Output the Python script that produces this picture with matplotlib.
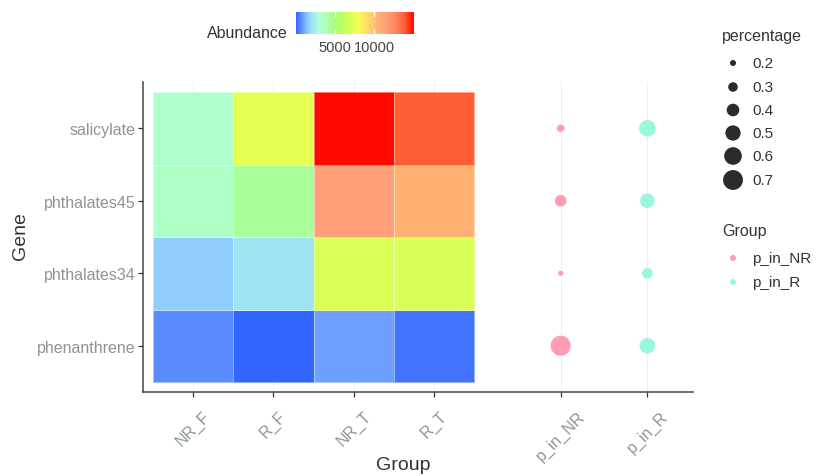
import numpy as np
import matplotlib
matplotlib.use("Agg")
import matplotlib.pyplot as plt
from matplotlib.colors import LinearSegmentedColormap, Normalize
from matplotlib.cm import ScalarMappable

plt.rcParams['font.family'] = ['Liberation Sans', 'DejaVu Sans']

# ---- data -------------------------------------------------------------
genes = ["phenanthrene", "phthalates34", "phthalates45", "salicylate"]
groups = ["NR_F", "R_F", "NR_T", "R_T"]
# abundance per gene (rows) and group (columns)
abundance_phenanthrene = [700, 100, 1000, 330]
abundance_phthalates34 = [1600, 2200, 7100, 6950]
abundance_phthalates45 = [3400, 4400, 11400, 10500]
abundance_salicylate = [3250, 7400, 15000, 13800]

dot_groups = ["p_in_NR", "p_in_R"]
pct_in_NR = [0.73, 0.19, 0.38, 0.25]   # same gene order as `genes`
pct_in_R = [0.53, 0.345, 0.49, 0.57]

size_breaks = [0.2, 0.3, 0.4, 0.5, 0.6, 0.7]
cbar_ticks = [5000, 10000]

# ---- styling ----------------------------------------------------------
W, H = 817, 477
fig = plt.figure(figsize=(W / 100, H / 100), dpi=100)

def px_axes(x0, y0, x1, y1):
    return [x0 / W, 1 - y1 / H, (x1 - x0) / W, (y1 - y0) / H]

anchors = [
    (0.00, "#3366ff"), (0.06, "#70a0ff"), (0.10, "#90ccff"), (0.14, "#a0e4f4"),
    (0.19, "#b0ffd8"), (0.25, "#aeffb8"), (0.30, "#a8ff90"), (0.38, "#b4ff62"),
    (0.46, "#d8ff55"), (0.52, "#f2ff55"), (0.60, "#ffdd6a"), (0.68, "#ffb870"),
    (0.76, "#ffa07a"), (0.84, "#ff8866"), (0.92, "#ff5e35"), (1.00, "#ff0800"),
]
cmap = LinearSegmentedColormap.from_list("abund", anchors, N=512)

mat = np.array([abundance_phenanthrene, abundance_phthalates34,
                abundance_phthalates45, abundance_salicylate], dtype=float)
norm = Normalize(vmin=mat.min(), vmax=mat.max())

tick_grey = "#8c9494"
dark = "#333333"
col_NR = "#ff9bb2"
col_R = "#99f7dc"

ax = fig.add_axes(px_axes(143, 83, 693, 393))

# x positions of the two dot columns to the right of the tiles
dot_x = [5.58, 6.66]
for xv in list(range(1, 5)) + dot_x:
    ax.axvline(xv, color="#ececec", lw=0.6, zorder=0)

# tiles
xe = np.arange(0.5, 5.0, 1.0)
ye = np.arange(0.5, 5.0, 1.0)
ax.pcolormesh(xe, ye, mat, cmap=cmap, norm=norm,
              edgecolors=(1, 1, 1, 0.45), linewidth=0.6, zorder=1)

# dot sizes: area scaling between the data limits
all_pct = np.array(pct_in_NR + pct_in_R)
lo, hi = all_pct.min(), all_pct.max()
D_MIN, D_MAX = 5.6, 20.5

def diam_px(v):
    return D_MIN + (np.sqrt(v) - np.sqrt(lo)) / (np.sqrt(hi) - np.sqrt(lo)) * (D_MAX - D_MIN)

def area_pt(v):
    return (np.asarray(diam_px(np.asarray(v))) * 0.72) ** 2

yrows = np.arange(1, len(genes) + 1)
ax.scatter([dot_x[0]] * len(genes), yrows, s=area_pt(pct_in_NR), color=col_NR,
           edgecolors=(1, 1, 1, 0.5), linewidths=0.6, zorder=3)
ax.scatter([dot_x[1]] * len(genes), yrows, s=area_pt(pct_in_R), color=col_R,
           edgecolors=(1, 1, 1, 0.5), linewidths=0.6, zorder=3)

ax.set_xlim(0.5 - 10 / 80.25, 0.5 + 540 / 80.25)
ax.set_ylim(0.5 - 10 / 72.5, 4.5 + 10 / 72.5)

ax.set_xticks(list(range(1, 5)) + dot_x)
ax.set_xticklabels(groups + dot_groups, rotation=45, ha="center", va="top",
                   color=tick_grey, fontsize=11.5)
ax.set_yticks(yrows)
ax.set_yticklabels(genes, color=tick_grey, fontsize=11.5)
ax.tick_params(axis="both", length=3.5, width=0.9, color=dark)
ax.tick_params(axis="y", pad=2)
ax.tick_params(axis="x", pad=8)
for side in ("top", "right"):
    ax.spines[side].set_visible(False)
for side in ("left", "bottom"):
    ax.spines[side].set_color("#444444")
    ax.spines[side].set_linewidth(1.1)

fig.text(20 / W, 1 - 236 / H, "Gene", rotation=90, ha="center", va="center",
         fontsize=14, color=dark)
fig.text(403 / W, 1 - 466 / H, "Group", ha="center", va="center",
         fontsize=14, color=dark)

# colour bar
cax = fig.add_axes(px_axes(296, 13, 414, 35))
cb = fig.colorbar(ScalarMappable(norm=norm, cmap=cmap), cax=cax,
                  orientation="horizontal")
cb.outline.set_visible(False)
cb.set_ticks(cbar_ticks)
cb.ax.tick_params(length=0, labelsize=10.5, labelcolor="#444444", pad=4)
for t in cbar_ticks:
    cax.axvline(t, ymin=0, ymax=0.2, color="white", lw=1)
    cax.axvline(t, ymin=0.8, ymax=1, color="white", lw=1)
fig.text(288 / W, 1 - 33 / H, "Abundance", ha="right", va="center",
         fontsize=11.5, color=dark)

# legends on a pixel-coordinate overlay
lax = fig.add_axes([0, 0, 1, 1], facecolor="none")
lax.set_xlim(0, W)
lax.set_ylim(H, 0)
lax.axis("off")

lax.text(722, 37, "percentage", ha="left", va="center", fontsize=11.5, color=dark)
leg_y = [64, 88, 111, 134, 157, 181]
lax.scatter([733] * len(size_breaks), leg_y, s=area_pt(size_breaks),
            color="#2b2b2b", edgecolors="none")
for yv, b in zip(leg_y, size_breaks):
    lax.text(752, yv, f"{b:.1f}", ha="left", va="center", fontsize=11, color=dark)

lax.text(722, 232, "Group", ha="left", va="center", fontsize=11.5, color=dark)
for yv, lab, c in zip([259, 283], dot_groups, [col_NR, col_R]):
    lax.scatter([733], [yv], s=(6 * 0.72) ** 2, color=c, edgecolors="none")
    lax.text(752, yv, lab, ha="left", va="center", fontsize=11, color=dark)

fig.savefig("out.png", dpi=100)
